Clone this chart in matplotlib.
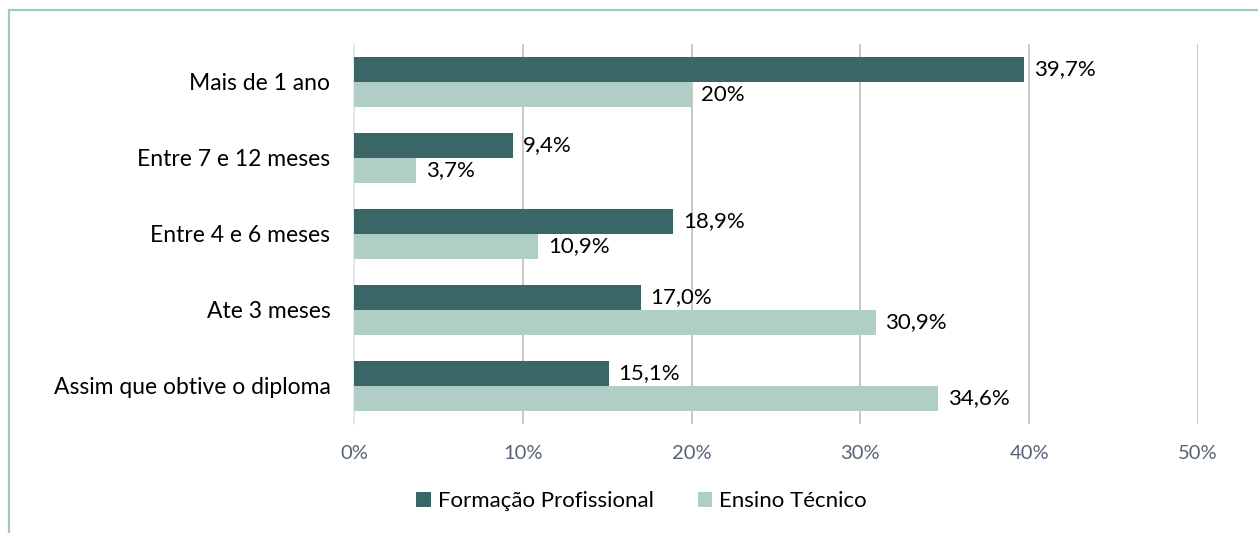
import matplotlib

matplotlib.use("Agg")
import matplotlib.pyplot as plt
import numpy as np
from matplotlib.patches import Rectangle

plt.rcParams["font.family"] = ["Lato", "DejaVu Sans"]

categories = [
    "Mais de 1 ano",
    "Entre 7 e 12 meses",
    "Entre 4 e 6 meses",
    "Ate 3 meses",
    "Assim que obtive o diploma",
]
formacao = [39.7, 9.4, 18.9, 17.0, 15.1]
ensino = [20.0, 3.7, 10.9, 30.9, 34.6]
formacao_labels = ["39,7%", "9,4%", "18,9%", "17,0%", "15,1%"]
ensino_labels = ["20%", "3,7%", "10,9%", "30,9%", "34,6%"]
series_names = ["Formação Profissional", "Ensino Técnico"]
xticks = [0, 10, 20, 30, 40, 50]

dark = "#3b6668"
light = "#b0cdc6"

fig = plt.figure(figsize=(12.58, 5.33), dpi=100)
ax = fig.add_axes([0.2814, 0.2045, 0.6709, 0.713])

y = np.arange(len(categories))
h = 0.33
b1 = ax.barh(y - h / 2, formacao, height=h, color=dark, label=series_names[0], zorder=3)
b2 = ax.barh(y + h / 2, ensino, height=h, color=light, label=series_names[1], zorder=3)

ax.bar_label(b1, labels=formacao_labels, padding=7, fontsize=16, color="black")
ax.bar_label(b2, labels=ensino_labels, padding=7, fontsize=16, color="black")

ax.set_ylim(len(categories) - 0.5, -0.5)
ax.set_yticks(y)
ax.set_yticklabels(categories, fontsize=16.5, color="black")
ax.set_xlim(0, 50)
ax.set_xticks(xticks)
ax.set_xticklabels([f"{t}%" for t in xticks], fontsize=14.5, color="#586377")
ax.tick_params(axis="y", length=0, pad=17)
ax.tick_params(axis="x", length=0, pad=15)

ax.grid(axis="x", color="#c4c4c4", lw=1.3, zorder=0)
for s in ["top", "right", "bottom"]:
    ax.spines[s].set_visible(False)
ax.spines["left"].set_color("#e3e8ef")
ax.spines["left"].set_linewidth(1.3)

fig.legend(
    loc="center",
    bbox_to_anchor=(0.51, 0.06),
    ncol=2,
    frameon=False,
    fontsize=16,
    handlelength=0.65,
    handleheight=0.65,
    handletextpad=0.3,
    columnspacing=2.0,
)

# outer frame (only top and left visible in the crop)
fig.patches.append(
    Rectangle((9 / 1258, -0.1), 1.2, 0.1 + (533 - 10) / 533,
              transform=fig.transFigure, fill=False, edgecolor="#9dcac3", lw=1.6)
)

fig.savefig("out.png", dpi=100)
plt.close(fig)
